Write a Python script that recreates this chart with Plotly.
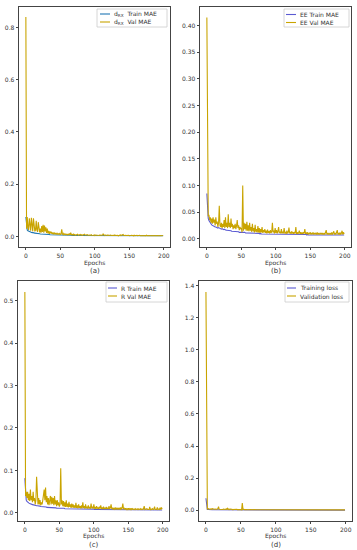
import plotly.graph_objects as go

epochs = list(range(200))

a_train = [0.075, 0.030, 0.025, 0.022, 0.020, 0.019, 0.018, 0.017, 0.016, 0.016,
           0.015, 0.014, 0.014, 0.013, 0.013, 0.012, 0.012, 0.012, 0.011, 0.011,
           0.011, 0.010, 0.010, 0.010, 0.010, 0.009, 0.009, 0.009, 0.009, 0.009,
           0.008, 0.008, 0.008, 0.008, 0.008, 0.007, 0.007, 0.007, 0.007, 0.007,
           0.007, 0.007, 0.006, 0.006, 0.006, 0.006, 0.006, 0.006, 0.006, 0.006,
           0.006, 0.005, 0.006, 0.005, 0.005, 0.005, 0.005, 0.005, 0.005, 0.005,
           0.005, 0.005, 0.005, 0.005, 0.005, 0.005, 0.005, 0.004, 0.005, 0.004,
           0.004, 0.004, 0.004, 0.004, 0.004, 0.004, 0.004, 0.004, 0.004, 0.004,
           0.004, 0.004, 0.004, 0.004, 0.004, 0.004, 0.004, 0.004, 0.004, 0.004,
           0.004, 0.004, 0.004, 0.004, 0.004, 0.004, 0.004, 0.004, 0.004, 0.004,
           0.004, 0.004, 0.004, 0.004, 0.004, 0.004, 0.004, 0.004, 0.003, 0.004,
           0.003, 0.004, 0.004, 0.003, 0.003, 0.004, 0.003, 0.003, 0.003, 0.003,
           0.003, 0.003, 0.003, 0.003, 0.003, 0.003, 0.003, 0.003, 0.003, 0.003,
           0.003, 0.003, 0.003, 0.003, 0.003, 0.003, 0.003, 0.003, 0.003, 0.003,
           0.003, 0.003, 0.003, 0.003, 0.003, 0.003, 0.003, 0.003, 0.003, 0.003,
           0.003, 0.003, 0.003, 0.003, 0.003, 0.003, 0.003, 0.003, 0.003, 0.003,
           0.003, 0.003, 0.003, 0.003, 0.003, 0.003, 0.003, 0.003, 0.003, 0.003,
           0.003, 0.003, 0.003, 0.003, 0.003, 0.003, 0.003, 0.003, 0.003, 0.003,
           0.003, 0.003, 0.003, 0.003, 0.003, 0.003, 0.003, 0.003, 0.003, 0.003,
           0.003, 0.003, 0.003, 0.003, 0.003, 0.003, 0.003, 0.003, 0.003, 0.003]

a_val = [0.84, 0.030, 0.075, 0.035, 0.025, 0.070, 0.030, 0.022, 0.072, 0.028,
         0.020, 0.070, 0.030, 0.020, 0.025, 0.060, 0.025, 0.018, 0.055, 0.022,
         0.016, 0.030, 0.015, 0.040, 0.018, 0.045, 0.015, 0.042, 0.020, 0.035,
         0.014, 0.030, 0.012, 0.022, 0.010, 0.020, 0.012, 0.018, 0.010, 0.015,
         0.009, 0.016, 0.010, 0.012, 0.008, 0.014, 0.009, 0.011, 0.008, 0.012,
         0.008, 0.010, 0.028, 0.010, 0.007, 0.012, 0.008, 0.010, 0.007, 0.009,
         0.006, 0.009, 0.007, 0.012, 0.006, 0.015, 0.007, 0.008, 0.006, 0.009,
         0.006, 0.008, 0.005, 0.007, 0.006, 0.009, 0.005, 0.007, 0.006, 0.008,
         0.005, 0.007, 0.005, 0.006, 0.005, 0.009, 0.005, 0.006, 0.005, 0.007,
         0.005, 0.006, 0.004, 0.006, 0.005, 0.007, 0.004, 0.006, 0.005, 0.006,
         0.004, 0.006, 0.005, 0.007, 0.004, 0.005, 0.004, 0.006, 0.005, 0.006,
         0.004, 0.005, 0.010, 0.005, 0.004, 0.006, 0.004, 0.005, 0.004, 0.006,
         0.004, 0.005, 0.004, 0.006, 0.004, 0.005, 0.004, 0.005, 0.004, 0.006,
         0.004, 0.005, 0.004, 0.005, 0.003, 0.005, 0.004, 0.006, 0.004, 0.005,
         0.004, 0.008, 0.004, 0.005, 0.003, 0.005, 0.004, 0.005, 0.003, 0.005,
         0.003, 0.005, 0.004, 0.005, 0.003, 0.004, 0.003, 0.005, 0.003, 0.004,
         0.003, 0.005, 0.003, 0.004, 0.003, 0.005, 0.003, 0.004, 0.003, 0.004,
         0.003, 0.004, 0.003, 0.004, 0.003, 0.005, 0.003, 0.004, 0.003, 0.004,
         0.003, 0.004, 0.003, 0.004, 0.003, 0.004, 0.003, 0.004, 0.003, 0.004,
         0.003, 0.004, 0.003, 0.004, 0.003, 0.004, 0.003, 0.004, 0.003, 0.004]

b_train = [0.085, 0.045, 0.038, 0.034, 0.031, 0.029, 0.028, 0.026, 0.025, 0.024,
           0.024, 0.023, 0.022, 0.022, 0.021, 0.021, 0.020, 0.021, 0.020, 0.019,
           0.019, 0.018, 0.019, 0.018, 0.017, 0.018, 0.017, 0.017, 0.016, 0.016,
           0.016, 0.016, 0.015, 0.015, 0.015, 0.015, 0.014, 0.014, 0.014, 0.014,
           0.014, 0.013, 0.013, 0.013, 0.013, 0.013, 0.013, 0.012, 0.012, 0.012,
           0.012, 0.012, 0.013, 0.012, 0.012, 0.012, 0.011, 0.011, 0.011, 0.011,
           0.011, 0.011, 0.011, 0.011, 0.011, 0.010, 0.010, 0.010, 0.010, 0.010,
           0.010, 0.010, 0.010, 0.010, 0.010, 0.010, 0.010, 0.009, 0.010, 0.009,
           0.009, 0.009, 0.009, 0.009, 0.009, 0.009, 0.009, 0.009, 0.009, 0.009,
           0.009, 0.009, 0.009, 0.009, 0.009, 0.009, 0.009, 0.009, 0.009, 0.009,
           0.009, 0.009, 0.009, 0.008, 0.009, 0.008, 0.008, 0.008, 0.008, 0.008,
           0.008, 0.008, 0.008, 0.008, 0.008, 0.008, 0.008, 0.008, 0.008, 0.008,
           0.008, 0.008, 0.008, 0.008, 0.008, 0.008, 0.008, 0.008, 0.008, 0.008,
           0.008, 0.008, 0.008, 0.008, 0.008, 0.008, 0.008, 0.008, 0.008, 0.008,
           0.008, 0.008, 0.008, 0.008, 0.008, 0.007, 0.008, 0.007, 0.007, 0.007,
           0.007, 0.007, 0.007, 0.007, 0.007, 0.007, 0.007, 0.007, 0.007, 0.007,
           0.007, 0.007, 0.007, 0.007, 0.007, 0.007, 0.007, 0.007, 0.007, 0.007,
           0.007, 0.007, 0.007, 0.007, 0.007, 0.007, 0.007, 0.007, 0.007, 0.007,
           0.007, 0.007, 0.007, 0.007, 0.007, 0.007, 0.007, 0.007, 0.007, 0.007,
           0.007, 0.007, 0.007, 0.007, 0.007, 0.007, 0.007, 0.007, 0.007, 0.007]

b_val = [0.415, 0.045, 0.042, 0.045, 0.035, 0.040, 0.030, 0.038, 0.028, 0.040,
         0.030, 0.036, 0.025, 0.040, 0.028, 0.032, 0.022, 0.030, 0.062, 0.025,
         0.022, 0.030, 0.020, 0.028, 0.022, 0.035, 0.020, 0.040, 0.022, 0.030,
         0.020, 0.046, 0.022, 0.030, 0.020, 0.038, 0.022, 0.028, 0.018, 0.025,
         0.020, 0.028, 0.018, 0.024, 0.035, 0.020, 0.025, 0.016, 0.022, 0.018,
         0.020, 0.012, 0.100, 0.015, 0.030, 0.018, 0.028, 0.015, 0.032, 0.015,
         0.025, 0.014, 0.030, 0.015, 0.022, 0.013, 0.028, 0.014, 0.020, 0.012,
         0.026, 0.013, 0.018, 0.012, 0.024, 0.012, 0.020, 0.011, 0.018, 0.012,
         0.022, 0.011, 0.016, 0.012, 0.018, 0.011, 0.015, 0.010, 0.017, 0.011,
         0.014, 0.010, 0.016, 0.011, 0.013, 0.030, 0.012, 0.015, 0.010, 0.020,
         0.011, 0.016, 0.010, 0.014, 0.022, 0.011, 0.013, 0.010, 0.018, 0.010,
         0.013, 0.010, 0.020, 0.011, 0.012, 0.009, 0.015, 0.010, 0.012, 0.021,
         0.010, 0.013, 0.009, 0.014, 0.010, 0.012, 0.009, 0.013, 0.010, 0.022,
         0.009, 0.012, 0.009, 0.011, 0.015, 0.009, 0.012, 0.009, 0.011, 0.009,
         0.012, 0.010, 0.018, 0.009, 0.011, 0.009, 0.012, 0.008, 0.011, 0.009,
         0.012, 0.008, 0.010, 0.009, 0.012, 0.008, 0.010, 0.009, 0.011, 0.008,
         0.012, 0.008, 0.010, 0.008, 0.011, 0.009, 0.010, 0.008, 0.011, 0.008,
         0.010, 0.008, 0.011, 0.016, 0.008, 0.010, 0.008, 0.011, 0.008, 0.010,
         0.008, 0.012, 0.008, 0.010, 0.014, 0.008, 0.010, 0.008, 0.011, 0.016,
         0.008, 0.010, 0.008, 0.012, 0.008, 0.010, 0.015, 0.008, 0.012, 0.009]

c_train = [0.082, 0.035, 0.030, 0.027, 0.025, 0.024, 0.023, 0.022, 0.021, 0.021,
           0.020, 0.020, 0.019, 0.019, 0.018, 0.018, 0.018, 0.017, 0.017, 0.017,
           0.016, 0.016, 0.016, 0.015, 0.015, 0.015, 0.015, 0.014, 0.014, 0.014,
           0.014, 0.014, 0.013, 0.013, 0.013, 0.013, 0.013, 0.013, 0.012, 0.012,
           0.012, 0.012, 0.012, 0.012, 0.012, 0.012, 0.011, 0.011, 0.011, 0.011,
           0.011, 0.011, 0.012, 0.011, 0.011, 0.011, 0.011, 0.011, 0.010, 0.010,
           0.010, 0.010, 0.010, 0.010, 0.010, 0.010, 0.010, 0.010, 0.010, 0.010,
           0.010, 0.010, 0.009, 0.010, 0.009, 0.009, 0.009, 0.009, 0.009, 0.009,
           0.009, 0.009, 0.009, 0.009, 0.009, 0.009, 0.009, 0.009, 0.009, 0.009,
           0.009, 0.009, 0.009, 0.009, 0.009, 0.009, 0.009, 0.009, 0.009, 0.009,
           0.009, 0.008, 0.009, 0.008, 0.008, 0.008, 0.008, 0.008, 0.008, 0.008,
           0.008, 0.008, 0.008, 0.008, 0.008, 0.008, 0.008, 0.008, 0.008, 0.008,
           0.008, 0.008, 0.008, 0.008, 0.008, 0.008, 0.008, 0.008, 0.008, 0.008,
           0.008, 0.008, 0.008, 0.008, 0.008, 0.008, 0.008, 0.008, 0.008, 0.008,
           0.008, 0.008, 0.008, 0.007, 0.008, 0.007, 0.007, 0.007, 0.007, 0.007,
           0.007, 0.007, 0.007, 0.007, 0.007, 0.007, 0.007, 0.007, 0.007, 0.007,
           0.007, 0.007, 0.007, 0.007, 0.007, 0.007, 0.007, 0.007, 0.007, 0.007,
           0.007, 0.007, 0.007, 0.007, 0.007, 0.007, 0.007, 0.007, 0.007, 0.007,
           0.007, 0.007, 0.007, 0.007, 0.007, 0.007, 0.007, 0.007, 0.007, 0.007,
           0.007, 0.007, 0.007, 0.007, 0.007, 0.007, 0.007, 0.007, 0.007, 0.007]

c_val = [0.520, 0.040, 0.050, 0.035, 0.050, 0.030, 0.045, 0.028, 0.055, 0.030,
         0.040, 0.025, 0.050, 0.028, 0.035, 0.020, 0.030, 0.085, 0.030, 0.020,
         0.035, 0.020, 0.030, 0.018, 0.025, 0.020, 0.030, 0.045, 0.055, 0.030,
         0.060, 0.025, 0.040, 0.020, 0.035, 0.018, 0.030, 0.040, 0.020, 0.038,
         0.022, 0.035, 0.018, 0.040, 0.020, 0.030, 0.016, 0.030, 0.018, 0.025,
         0.015, 0.020, 0.105, 0.020, 0.030, 0.016, 0.028, 0.015, 0.025, 0.014,
         0.030, 0.014, 0.022, 0.013, 0.026, 0.014, 0.020, 0.012, 0.022, 0.013,
         0.020, 0.012, 0.018, 0.012, 0.024, 0.012, 0.018, 0.011, 0.020, 0.012,
         0.016, 0.011, 0.018, 0.011, 0.025, 0.012, 0.016, 0.010, 0.020, 0.011,
         0.015, 0.010, 0.018, 0.011, 0.014, 0.010, 0.022, 0.011, 0.015, 0.010,
         0.020, 0.010, 0.014, 0.009, 0.016, 0.010, 0.013, 0.009, 0.015, 0.010,
         0.018, 0.009, 0.013, 0.009, 0.015, 0.009, 0.012, 0.009, 0.014, 0.009,
         0.012, 0.009, 0.016, 0.009, 0.012, 0.020, 0.009, 0.012, 0.008, 0.011,
         0.009, 0.013, 0.008, 0.011, 0.009, 0.012, 0.008, 0.011, 0.009, 0.013,
         0.008, 0.012, 0.022, 0.009, 0.011, 0.008, 0.011, 0.008, 0.010, 0.008,
         0.011, 0.008, 0.010, 0.008, 0.011, 0.008, 0.010, 0.008, 0.009, 0.008,
         0.010, 0.008, 0.009, 0.008, 0.010, 0.008, 0.009, 0.008, 0.010, 0.008,
         0.009, 0.008, 0.010, 0.016, 0.008, 0.009, 0.008, 0.010, 0.008, 0.009,
         0.008, 0.014, 0.008, 0.009, 0.008, 0.010, 0.008, 0.009, 0.015, 0.008,
         0.009, 0.008, 0.013, 0.008, 0.009, 0.008, 0.012, 0.008, 0.013, 0.009]

d_train = [0.075, 0.006, 0.005, 0.005, 0.004, 0.004, 0.004, 0.004, 0.003, 0.003,
           0.003, 0.003, 0.003, 0.003, 0.003, 0.003, 0.003, 0.003, 0.003, 0.003,
           0.003, 0.003, 0.003, 0.002, 0.002, 0.002, 0.002, 0.002, 0.002, 0.002,
           0.002, 0.002, 0.002, 0.002, 0.002, 0.002, 0.002, 0.002, 0.002, 0.002,
           0.002, 0.002, 0.002, 0.002, 0.002, 0.002, 0.002, 0.002, 0.002, 0.002,
           0.002, 0.002, 0.002, 0.002, 0.002, 0.002, 0.002, 0.002, 0.002, 0.002,
           0.002, 0.002, 0.002, 0.002, 0.002, 0.002, 0.002, 0.002, 0.002, 0.002,
           0.002, 0.002, 0.002, 0.002, 0.002, 0.002, 0.002, 0.002, 0.002, 0.002,
           0.002, 0.002, 0.002, 0.002, 0.002, 0.002, 0.002, 0.002, 0.002, 0.002,
           0.002, 0.002, 0.002, 0.002, 0.002, 0.002, 0.002, 0.002, 0.002, 0.002,
           0.001, 0.001, 0.001, 0.001, 0.001, 0.001, 0.001, 0.001, 0.001, 0.001,
           0.001, 0.001, 0.001, 0.001, 0.001, 0.001, 0.001, 0.001, 0.001, 0.001,
           0.001, 0.001, 0.001, 0.001, 0.001, 0.001, 0.001, 0.001, 0.001, 0.001,
           0.001, 0.001, 0.001, 0.001, 0.001, 0.001, 0.001, 0.001, 0.001, 0.001,
           0.001, 0.001, 0.001, 0.001, 0.001, 0.001, 0.001, 0.001, 0.001, 0.001,
           0.001, 0.001, 0.001, 0.001, 0.001, 0.001, 0.001, 0.001, 0.001, 0.001,
           0.001, 0.001, 0.001, 0.001, 0.001, 0.001, 0.001, 0.001, 0.001, 0.001,
           0.001, 0.001, 0.001, 0.001, 0.001, 0.001, 0.001, 0.001, 0.001, 0.001,
           0.001, 0.001, 0.001, 0.001, 0.001, 0.001, 0.001, 0.001, 0.001, 0.001,
           0.001, 0.001, 0.001, 0.001, 0.001, 0.001, 0.001, 0.001, 0.001, 0.001]

d_val = [1.360, 0.010, 0.008, 0.010, 0.007, 0.009, 0.006, 0.008, 0.006, 0.010,
         0.007, 0.009, 0.006, 0.008, 0.006, 0.009, 0.006, 0.010, 0.022, 0.006,
         0.005, 0.007, 0.005, 0.006, 0.005, 0.007, 0.005, 0.008, 0.005, 0.009,
         0.005, 0.012, 0.005, 0.008, 0.004, 0.007, 0.004, 0.006, 0.004, 0.005,
         0.004, 0.005, 0.004, 0.005, 0.006, 0.004, 0.005, 0.004, 0.004, 0.004,
         0.004, 0.003, 0.045, 0.004, 0.006, 0.004, 0.005, 0.003, 0.005, 0.003,
         0.004, 0.003, 0.005, 0.003, 0.004, 0.003, 0.004, 0.003, 0.004, 0.003,
         0.004, 0.003, 0.003, 0.003, 0.004, 0.003, 0.003, 0.003, 0.003, 0.003,
         0.003, 0.003, 0.003, 0.003, 0.003, 0.003, 0.003, 0.003, 0.003, 0.003,
         0.003, 0.002, 0.003, 0.002, 0.003, 0.004, 0.002, 0.003, 0.002, 0.003,
         0.002, 0.003, 0.002, 0.003, 0.003, 0.002, 0.002, 0.002, 0.003, 0.002,
         0.002, 0.002, 0.003, 0.002, 0.002, 0.002, 0.002, 0.002, 0.002, 0.003,
         0.002, 0.002, 0.002, 0.002, 0.002, 0.002, 0.002, 0.002, 0.002, 0.003,
         0.002, 0.002, 0.002, 0.002, 0.002, 0.002, 0.002, 0.002, 0.002, 0.002,
         0.002, 0.002, 0.003, 0.002, 0.002, 0.002, 0.002, 0.002, 0.002, 0.002,
         0.002, 0.002, 0.002, 0.002, 0.002, 0.002, 0.002, 0.002, 0.002, 0.002,
         0.002, 0.002, 0.002, 0.002, 0.002, 0.002, 0.002, 0.002, 0.002, 0.002,
         0.002, 0.002, 0.002, 0.002, 0.002, 0.002, 0.002, 0.002, 0.002, 0.002,
         0.002, 0.002, 0.002, 0.002, 0.002, 0.002, 0.002, 0.002, 0.002, 0.002,
         0.002, 0.002, 0.002, 0.002, 0.002, 0.002, 0.002, 0.002, 0.002, 0.002]

panel_labels = ["(a)", "(b)", "(c)", "(d)"]
train_names = ["d<sub>RX</sub>  Train MAE", "EE Train MAE", "R Train MAE", "Training loss"]
val_names = ["d<sub>RX</sub>  Val MAE", "EE Val MAE", "R Val MAE", "Validation loss"]
x_title = "Epochs"

train_series = [a_train, b_train, c_train, d_train]
val_series = [a_val, b_val, c_val, d_val]

W, H = 357, 550
FONT = "DejaVu Sans"
VAL_COLOR = "#c9a400"
TRAIN_COLORS = ["#1f77b4", "#5a5ad2", "#5a5ad2", "#5a5ad2"]
TXT = "#333333"

# panel geometry in pixels: (left, right, top, bottom)
boxes = [(19, 170, 6.5, 247), (200, 351, 6.5, 247),
         (18, 169, 281, 521), (199, 352, 281, 521)]
y_ranges = [[-0.04, 0.88], [-0.0155, 0.4355], [-0.019, 0.546], [-0.067, 1.428]]
y_dticks = [0.2, 0.05, 0.1, 0.2]
y_formats = [".1f", ".2f", ".1f", ".1f"]
# legend boxes in pixels: (left, right, top, bottom, line_x0, line_x1, text_x, row1_y, row2_y)
legend_boxes = [(97, 167, 9, 27, 100, 110, 112, 14, 22),
                (284, 349, 9, 27, 286, 296, 298, 14.5, 22.5),
                (106, 167, 282, 302, 108, 117, 119, 288, 296),
                (285, 349, 282, 302, 287, 296, 298, 288, 296)]


def px(x):
    return x / W


def py(y):
    return 1 - y / H


fig = go.Figure()
layout = dict(width=W, height=H, margin=dict(l=0, r=0, t=0, b=0),
              paper_bgcolor="white", plot_bgcolor="white", showlegend=False,
              font=dict(family=FONT, size=6, color=TXT))
annotations = []
shapes = []

for i in range(4):
    sfx = "" if i == 0 else str(i + 1)
    fig.add_trace(go.Scatter(x=epochs, y=train_series[i], mode="lines",
                             name=train_names[i], line=dict(color=TRAIN_COLORS[i], width=1.1),
                             xaxis="x" + sfx, yaxis="y" + sfx))
    fig.add_trace(go.Scatter(x=epochs, y=val_series[i], mode="lines",
                             name=val_names[i], line=dict(color=VAL_COLOR, width=1.1),
                             xaxis="x" + sfx, yaxis="y" + sfx))
    l, r, t, b = boxes[i]
    axis_common = dict(showline=True, mirror=True, linecolor="#444", linewidth=0.8,
                       showgrid=False, zeroline=False, ticks="outside", ticklen=2.5,
                       tickcolor="#444", tickfont=dict(size=6, color=TXT))
    layout["xaxis" + sfx] = dict(domain=[px(l), px(r)], range=[-9.95, 208.95],
                                 anchor="y" + sfx, dtick=50, tick0=0, **axis_common)
    layout["yaxis" + sfx] = dict(domain=[py(b), py(t)], range=y_ranges[i],
                                 anchor="x" + sfx, dtick=y_dticks[i], tick0=0,
                                 tickformat=y_formats[i], **axis_common)

    # legend (box, line samples, labels)
    L, R, T, B, lx0, lx1, tx, r1, r2 = legend_boxes[i]
    shapes.append(dict(type="rect", xref="paper", yref="paper",
                       x0=px(L), x1=px(R), y0=py(B), y1=py(T),
                       line=dict(color="#cccccc", width=0.8), fillcolor="rgba(255,255,255,0.8)"))
    for ry, col, name in [(r1, TRAIN_COLORS[i], train_names[i]), (r2, VAL_COLOR, val_names[i])]:
        shapes.append(dict(type="line", xref="paper", yref="paper",
                           x0=px(lx0), x1=px(lx1), y0=py(ry), y1=py(ry),
                           line=dict(color=col, width=1.1)))
        annotations.append(dict(text=name, x=px(tx), y=py(ry), xref="paper", yref="paper",
                                showarrow=False, xanchor="left", yanchor="middle",
                                font=dict(size=6, color=TXT)))

    cx = px((l + r) / 2)
    ep_y = 262.5 if i < 2 else 536
    lab_y = 271 if i < 2 else 544.5
    annotations.append(dict(text=x_title, x=cx, y=py(ep_y), xref="paper", yref="paper",
                            showarrow=False, font=dict(size=6, color=TXT),
                            xanchor="center", yanchor="middle"))
    annotations.append(dict(text=panel_labels[i], x=cx, y=py(lab_y), xref="paper",
                            yref="paper", showarrow=False, font=dict(size=7, color=TXT),
                            xanchor="center", yanchor="middle"))

layout["annotations"] = annotations
layout["shapes"] = shapes
fig.update_layout(**layout)
fig.write_html("out.html", config={"displayModeBar": False},
               post_script="document.body.style.margin='0';document.body.style.overflow='hidden';")
